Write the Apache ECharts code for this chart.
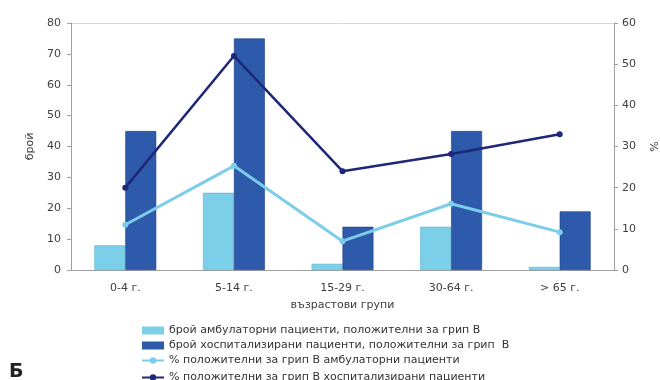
<!DOCTYPE html>
<html>
<head>
<meta charset="utf-8">
<script src="https://cdn.jsdelivr.net/npm/echarts@6/dist/echarts.min.js"></script>
<style>
  html, body { margin: 0; padding: 0; background: #fff; }
  #chart { width: 660px; height: 380px; }
</style>
</head>
<body>
<div id="chart"></div>
<script>
// Age groups and flu B positives
const ageGroups = ['0-4 г.', '5-14 г.', '15-29 г.', '30-64 г.', '> 65 г.'];
const outpatientCount = [8, 25, 2, 14, 1];
const hospitalCount = [45, 75, 14, 45, 19];
const outpatientPct = [11, 25.3, 7, 16.1, 9.2];
const hospitalPct = [20, 52, 24, 28.2, 33];

const countTicks = { min: 0, max: 80, interval: 10 };
const pctTicks = { min: 0, max: 60, interval: 10 };

const seriesNames = [
  'брой амбулаторни пациенти, положителни за грип В',
  'брой хоспитализирани пациенти, положителни за грип  В',
  '% положителни за грип В амбулаторни пациенти',
  '% положителни за грип В хоспитализирани пациенти'
];

const FONT = 'DejaVu Sans';
const TEXT = '#404040';
const AXIS = '#a0a0a0';

const chart = echarts.init(document.getElementById('chart'), null, { renderer: 'canvas' });

// top border drawn as the last split line of the count axis
const splitColors = [];
for (let v = countTicks.min; v < countTicks.max; v += countTicks.interval) splitColors.push('rgba(0,0,0,0)');
splitColors.push('#d8d8d8');

const legendBase = {
  orient: 'vertical',
  left: 136,
  itemWidth: 22,
  itemHeight: 8,
  itemGap: 4,
  textStyle: { fontFamily: FONT, fontSize: 11, color: '#333' }
};

chart.setOption({
  animation: false,
  backgroundColor: '#fff',
  textStyle: { fontFamily: FONT },
  grid: { left: 71, right: 46, top: 23, bottom: 110, outerBoundsMode: 'none' },
  legend: [
    Object.assign({}, legendBase, {
      top: 320,
      data: [
        { name: seriesNames[0], icon: 'rect', itemStyle: { borderWidth: 0 } },
        { name: seriesNames[1], icon: 'rect', itemStyle: { borderWidth: 0 } },
        seriesNames[2]
      ]
    }),
    Object.assign({}, legendBase, {
      top: 367,
      data: [seriesNames[3]]
    })
  ],
  graphic: [{
    type: 'text',
    left: 9,
    top: 363,
    style: { text: 'Б', font: 'bold 19px "DejaVu Sans"', fill: '#222' }
  }],
  xAxis: {
    type: 'category',
    data: ageGroups,
    name: 'възрастови групи',
    nameLocation: 'middle',
    nameGap: 30,
    nameTextStyle: { fontFamily: FONT, fontSize: 11, color: TEXT },
    axisLine: { lineStyle: { color: AXIS } },
    axisTick: { lineStyle: { color: AXIS }, length: 5 },
    axisLabel: { fontFamily: FONT, fontSize: 11, color: TEXT, margin: 13 }
  },
  yAxis: [{
    type: 'value',
    min: countTicks.min, max: countTicks.max, interval: countTicks.interval,
    name: 'брой',
    nameLocation: 'middle',
    nameGap: 34,
    nameRotate: 90,
    nameTextStyle: { fontFamily: FONT, fontSize: 11, color: TEXT },
    axisLine: { show: true, lineStyle: { color: AXIS } },
    axisTick: { show: true, lineStyle: { color: AXIS }, length: 4 },
    axisLabel: { fontFamily: FONT, fontSize: 11, color: TEXT, margin: 10 },
    splitLine: { show: true, lineStyle: { color: splitColors, width: 1 } }
  }, {
    type: 'value',
    position: 'right',
    min: pctTicks.min, max: pctTicks.max, interval: pctTicks.interval,
    name: '%',
    nameLocation: 'middle',
    nameGap: 36,
    nameRotate: 90,
    nameTextStyle: { fontFamily: FONT, fontSize: 11, color: TEXT },
    axisLine: { show: true, lineStyle: { color: AXIS } },
    axisTick: { show: true, lineStyle: { color: AXIS }, length: 4 },
    axisLabel: { fontFamily: FONT, fontSize: 11, color: TEXT, margin: 8 },
    splitLine: { show: false }
  }],
  series: [{
    name: seriesNames[0],
    type: 'bar',
    yAxisIndex: 0,
    data: outpatientCount,
    barGap: '0%',
    barCategoryGap: '43%',
    itemStyle: { color: '#7ccfe9', borderColor: '#5fb3d3', borderWidth: 0.6 }
  }, {
    name: seriesNames[1],
    type: 'bar',
    yAxisIndex: 0,
    data: hospitalCount,
    itemStyle: { color: '#2e5aab', borderColor: '#1f4287', borderWidth: 0.6 }
  }, {
    name: seriesNames[2],
    type: 'line',
    yAxisIndex: 1,
    data: outpatientPct,
    symbol: 'circle',
    symbolSize: 6,
    lineStyle: { color: '#7ccdea', width: 3 },
    itemStyle: { color: '#7ccdea' },
    z: 5
  }, {
    name: seriesNames[3],
    type: 'line',
    yAxisIndex: 1,
    data: hospitalPct,
    symbol: 'circle',
    symbolSize: 6,
    lineStyle: { color: '#1e2778', width: 2.5 },
    itemStyle: { color: '#1e2778' },
    z: 6
  }]
});
</script>
</body>
</html>
